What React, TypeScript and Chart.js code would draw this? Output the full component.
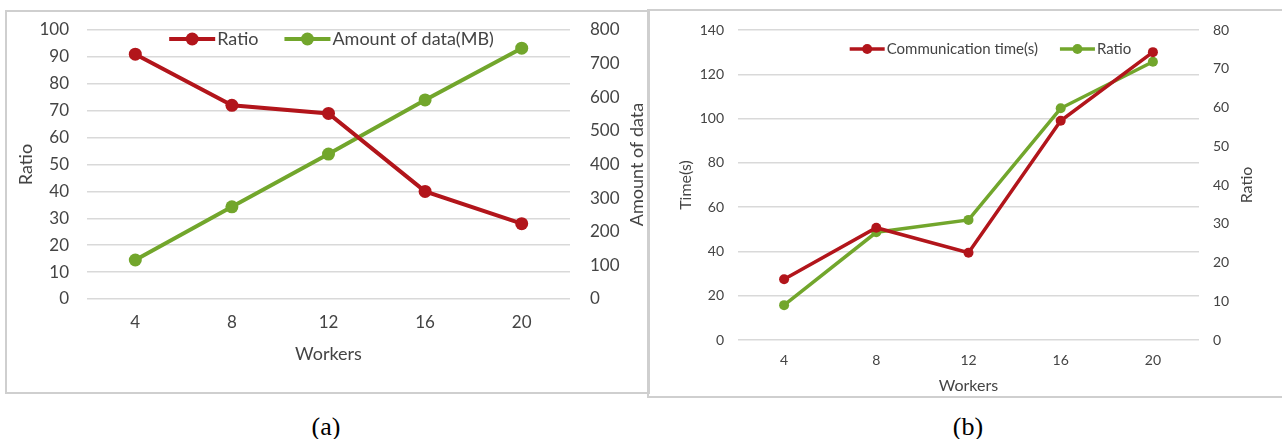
import React, { useEffect, useRef } from 'react';
import { Chart, registerables } from 'chart.js';

Chart.register(...registerables);

// ---------- data ----------
const workers = ['4', '8', '12', '16', '20'];

// chart (a)
const ratioA = [91, 72, 69, 40, 28];
const amountA = [116, 274, 431, 592, 746];

// chart (b)
const commTimeB = [27.4, 50.7, 39.4, 99, 130];
const ratioB = [9, 27.8, 31, 59.8, 71.8];

const RED = '#B2151B';
const GREEN = '#72A62C';
const TEXT = '#444444';
const GRID = '#d9d9d9';
const FONT = 'Lato, "Open Sans", sans-serif';

const lineLegendPlugin = {
  id: 'lineLegend',
  afterDraw(chart: any, _args: any, opts: any) {
    const { ctx, chartArea } = chart;
    const items = chart.data.datasets.map((ds: any) => ({ label: ds.label, color: ds.borderColor }));
    ctx.save();
    ctx.font = `${opts.fontSize}px ${FONT}`;
    const widths = items.map((it: any) => opts.lineLen + opts.textGap + ctx.measureText(it.label).width);
    const total = widths.reduce((a: number, b: number) => a + b, 0) + opts.itemGap * (items.length - 1);
    let x = (chartArea.left + chartArea.right) / 2 + opts.dx - total / 2;
    const y = chartArea.top + opts.dy;
    items.forEach((it: any, i: number) => {
      ctx.strokeStyle = it.color;
      ctx.lineWidth = opts.lineWidth;
      ctx.beginPath();
      ctx.moveTo(x, y);
      ctx.lineTo(x + opts.lineLen, y);
      ctx.stroke();
      ctx.fillStyle = it.color;
      ctx.beginPath();
      ctx.arc(x + opts.lineLen / 2, y, opts.radius, 0, Math.PI * 2);
      ctx.fill();
      ctx.fillStyle = TEXT;
      ctx.textBaseline = 'middle';
      ctx.textAlign = 'left';
      ctx.fillText(it.label, x + opts.lineLen + opts.textGap, y);
      x += widths[i] + opts.itemGap;
    });
    // right axis title, reading bottom-to-top
    const sc = chart.scales.y1;
    ctx.translate(sc.left + opts.rightTitleOffset, (chartArea.top + chartArea.bottom) / 2);
    ctx.rotate(-Math.PI / 2);
    ctx.font = `${opts.rightTitleSize}px ${FONT}`;
    ctx.fillStyle = TEXT;
    ctx.textAlign = 'center';
    ctx.textBaseline = 'middle';
    ctx.fillText(opts.rightTitle, 0, 0);
    ctx.restore();
  },
};

type Cfg = {
  labels: string[];
  s1: { label: string; data: number[]; color: string };
  s2: { label: string; data: number[]; color: string };
  yMax: number; yStep: number; y1Max: number; y1Step: number;
  leftTitle: string; rightTitle: string;
  tickSize: number; titleSize: number; legendSize: number;
  lineWidth: number; radius: number;
  leftW: number; rightW: number; bottomH: number; topPad: number;
  leftTickPad: number; rightTickPad: number; xTickPad: number;
  leftTitlePad: number; xTitlePad: number; rightTitleOffset: number;
  legendDx: number; legendDy: number; legendLine: number; legendGap: number;
};

function makeChart(canvas: HTMLCanvasElement, c: Cfg) {
  const ds = (s: any, axis: string) => ({
    label: s.label,
    data: s.data,
    borderColor: s.color,
    backgroundColor: s.color,
    pointBackgroundColor: s.color,
    pointBorderColor: s.color,
    pointBorderWidth: 0,
    borderWidth: c.lineWidth,
    pointRadius: c.radius,
    tension: 0,
    yAxisID: axis,
  });
  return new Chart(canvas, {
    type: 'line',
    data: { labels: c.labels, datasets: [ds(c.s1, 'y'), ds(c.s2, 'y1')] },
    plugins: [lineLegendPlugin],
    options: {
      responsive: false,
      animation: false,
      devicePixelRatio: 1,
      layout: { padding: { top: c.topPad, left: 0, right: 0, bottom: 0 } },
      plugins: {
        legend: { display: false },
        tooltip: { enabled: false },
        lineLegend: {
          fontSize: c.legendSize, lineLen: c.legendLine, textGap: 2, itemGap: c.legendGap,
          dx: c.legendDx, dy: c.legendDy, lineWidth: c.lineWidth, radius: c.radius,
          rightTitle: c.rightTitle, rightTitleOffset: c.rightTitleOffset, rightTitleSize: c.titleSize,
        },
      } as any,
      scales: {
        x: {
          type: 'category',
          offset: true,
          grid: { display: false, drawTicks: false },
          border: { display: false },
          ticks: { color: TEXT, font: { family: FONT, size: c.tickSize }, padding: c.xTickPad, maxRotation: 0 },
          title: { display: true, text: 'Workers', color: TEXT, font: { family: FONT, size: c.titleSize }, padding: { top: 0, bottom: c.xTitlePad } },
          afterFit: (s: any) => { s.height = c.bottomH; },
        },
        y: {
          position: 'left',
          min: 0, max: c.yMax,
          grid: { color: GRID, lineWidth: 1.5, drawTicks: true, tickLength: c.leftTickPad, tickColor: 'rgba(0,0,0,0)' },
          border: { display: false },
          ticks: { stepSize: c.yStep, color: TEXT, font: { family: FONT, size: c.tickSize }, padding: 0 },
          title: { display: true, text: c.leftTitle, color: TEXT, font: { family: FONT, size: c.titleSize }, padding: { top: c.leftTitlePad, bottom: 0 } },
          afterFit: (s: any) => { s.width = c.leftW; },
        },
        y1: {
          position: 'right',
          min: 0, max: c.y1Max,
          grid: { display: true, drawOnChartArea: false, color: 'rgba(0,0,0,0)', drawTicks: true, tickLength: c.rightTickPad, tickColor: 'rgba(0,0,0,0)' },
          border: { display: false },
          ticks: { stepSize: c.y1Step, color: TEXT, font: { family: FONT, size: c.tickSize }, padding: 0 },
          afterFit: (s: any) => { s.width = c.rightW; },
        },
      },
    } as any,
  });
}

const cfgA: Cfg = {
  labels: workers,
  s1: { label: 'Ratio', data: ratioA, color: RED },
  s2: { label: 'Amount of data(MB)', data: amountA, color: GREEN },
  yMax: 100, yStep: 10, y1Max: 800, y1Step: 100,
  leftTitle: 'Ratio', rightTitle: 'Amount of data',
  tickSize: 17, titleSize: 18, legendSize: 18,
  lineWidth: 4, radius: 6.5,
  leftW: 82, rightW: 79, bottomH: 94, topPad: 19,
  leftTickPad: 18, rightTickPad: 20, xTickPad: 13,
  leftTitlePad: 10, xTitlePad: 28, rightTitleOffset: 67,
  legendDx: 3, legendDy: 9, legendLine: 46, legendGap: 26,
};

const cfgB: Cfg = {
  labels: workers,
  s1: { label: 'Communication time(s)', data: commTimeB, color: RED },
  s2: { label: 'Ratio', data: ratioB, color: GREEN },
  yMax: 140, yStep: 20, y1Max: 80, y1Step: 10,
  leftTitle: 'Time(s)', rightTitle: 'Ratio',
  tickSize: 14, titleSize: 16, legendSize: 15,
  lineWidth: 3.5, radius: 5,
  leftW: 88, rightW: 83, bottomH: 56, topPad: 18,
  leftTickPad: 14, rightTickPad: 14, xTickPad: 12,
  leftTitlePad: 26, xTitlePad: 1, rightTitleOffset: 48,
  legendDx: 22, legendDy: 19, legendLine: 35, legendGap: 22,
};

function ChartCanvas({ cfg, left, top, width, height }: { cfg: Cfg; left: number; top: number; width: number; height: number }) {
  const ref = useRef<HTMLCanvasElement | null>(null);
  useEffect(() => {
    if (!ref.current) return;
    const ch = makeChart(ref.current, cfg);
    return () => ch.destroy();
  }, [cfg]);
  return (
    <canvas
      ref={ref}
      width={width}
      height={height}
      style={{ position: 'absolute', left, top, width, height }}
    />
  );
}

const captionStyle: React.CSSProperties = {
  position: 'absolute', top: 411, width: 200, textAlign: 'center',
  fontFamily: '"Liberation Serif", "Times New Roman", serif', fontSize: 26, lineHeight: '32px', color: '#000',
};

const BORDER = '2px solid #cfcfcf';

export default function App() {
  return (
    <div style={{ position: 'absolute', left: 0, top: 0, width: 1282, height: 439, overflow: 'hidden', background: '#fff' }}>
      <div style={{ position: 'absolute', left: 5, top: 10, width: 645, height: 384, border: BORDER, boxSizing: 'border-box' }} />
      <div style={{ position: 'absolute', left: 647, top: 9, width: 700, height: 389, borderTop: BORDER, borderLeft: BORDER, borderBottom: BORDER, boxSizing: 'border-box' }} />
      <ChartCanvas cfg={cfgA} left={5} top={11} width={644} height={382} />
      <ChartCanvas cfg={cfgB} left={650} top={12} width={632} height={384} />
      <div style={{ ...captionStyle, left: 226 }}>(a)</div>
      <div style={{ ...captionStyle, left: 868 }}>(b)</div>
    </div>
  );
}
